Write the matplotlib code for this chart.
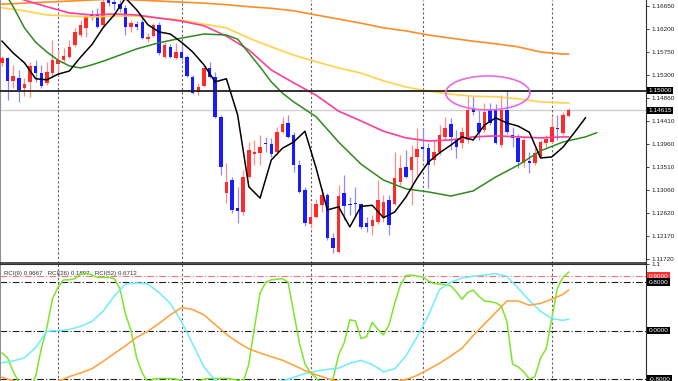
import matplotlib
matplotlib.use("Agg")
import matplotlib.pyplot as plt
from matplotlib.patches import Ellipse
import numpy as np

plt.rcParams['font.family'] = ['Liberation Sans', 'DejaVu Sans']

# daily candles
opens = [1.1554, 1.1563, 1.1519, 1.1524, 1.1505, 1.1517, 1.1548, 1.1534, 1.1515, 1.1534,
         1.1552, 1.1559, 1.1565, 1.1589, 1.1608, 1.1622, 1.1649, 1.1647, 1.1628, 1.1680,
         1.1672, 1.1668, 1.1661, 1.1624, 1.1629, 1.1633, 1.1600, 1.1606, 1.1628, 1.1565,
         1.1585, 1.1563, 1.1575, 1.1565, 1.1526, 1.1497, 1.1509, 1.1544, 1.1526, 1.1449,
         1.1301, 1.1326, 1.1272, 1.1264, 1.1332, 1.1377, 1.1379, 1.1398, 1.1396, 1.1381,
         1.1419, 1.1437, 1.1414, 1.1355, 1.1307, 1.1241, 1.1255, 1.1277, 1.1297, 1.1213,
         1.1186, 1.1301, 1.1279, 1.1281, 1.1279, 1.1243, 1.1237, 1.1245, 1.1253, 1.1287,
         1.1279, 1.1322, 1.1351, 1.1346, 1.1371, 1.1390, 1.1388, 1.1365, 1.1381, 1.1410,
         1.1435, 1.1404, 1.1398, 1.1404, 1.1466, 1.1437, 1.1423, 1.1462, 1.1462, 1.1394,
         1.1462, 1.1414, 1.1408, 1.1359, 1.1363, 1.1359, 1.1371, 1.1398, 1.1400, 1.1427,
         1.1418, 1.1451]
highs = [1.1567, 1.1565, 1.1550, 1.1540, 1.1524, 1.1556, 1.1559, 1.1550, 1.1556, 1.1598,
         1.1579, 1.1583, 1.1598, 1.1622, 1.1637, 1.1647, 1.1657, 1.1661, 1.1686, 1.1692,
         1.1684, 1.1676, 1.1666, 1.1637, 1.1635, 1.1641, 1.1612, 1.1631, 1.1633, 1.1594,
         1.1591, 1.1593, 1.1589, 1.1569, 1.1530, 1.1515, 1.1546, 1.1556, 1.1536, 1.1453,
         1.1359, 1.1332, 1.1313, 1.1346, 1.1400, 1.1404, 1.1414, 1.1410, 1.1408, 1.1429,
         1.1449, 1.1453, 1.1419, 1.1365, 1.1313, 1.1281, 1.1289, 1.1311, 1.1301, 1.1223,
         1.1317, 1.1336, 1.1293, 1.1313, 1.1281, 1.1255, 1.1258, 1.1326, 1.1297, 1.1297,
         1.1381, 1.1375, 1.1385, 1.1394, 1.1427, 1.1427, 1.1398, 1.1404, 1.1433, 1.1449,
         1.1447, 1.1423, 1.1429, 1.1489, 1.1489, 1.1462, 1.1476, 1.1476, 1.1474, 1.1491,
         1.1501, 1.1429, 1.1416, 1.1410, 1.1381, 1.1388, 1.1404, 1.1414, 1.1449, 1.1453,
         1.1458, 1.1466]
lows = [1.1548, 1.1482, 1.1505, 1.1478, 1.1489, 1.1488, 1.1517, 1.1505, 1.1511, 1.1526,
        1.1530, 1.1556, 1.1563, 1.1585, 1.1604, 1.1604, 1.1637, 1.1622, 1.1622, 1.1664,
        1.1657, 1.1653, 1.1608, 1.1614, 1.1618, 1.1600, 1.1594, 1.1604, 1.1569, 1.1563,
        1.1563, 1.1561, 1.1559, 1.1526, 1.1493, 1.1491, 1.1507, 1.1524, 1.1447, 1.1336,
        1.1281, 1.1262, 1.1243, 1.1258, 1.1330, 1.1355, 1.1355, 1.1381, 1.1371, 1.1375,
        1.1418, 1.1408, 1.1342, 1.1301, 1.1237, 1.1233, 1.1253, 1.1264, 1.1210, 1.1184,
        1.1184, 1.1248, 1.1258, 1.1255, 1.1231, 1.1225, 1.1219, 1.1241, 1.1245, 1.1219,
        1.1277, 1.1316, 1.1330, 1.1277, 1.1336, 1.1365, 1.1311, 1.1355, 1.1375, 1.1404,
        1.1385, 1.1369, 1.1388, 1.1398, 1.1453, 1.1404, 1.1419, 1.1433, 1.1396, 1.1390,
        1.1416, 1.1390, 1.1349, 1.1351, 1.1340, 1.1355, 1.1369, 1.1390, 1.1398, 1.1404,
        1.1414, 1.1449]
closes = [1.1563, 1.1519, 1.1528, 1.1501, 1.1513, 1.1548, 1.1534, 1.1509, 1.1536, 1.1559,
          1.1559, 1.1567, 1.1585, 1.1614, 1.1628, 1.1643, 1.1645, 1.1624, 1.1672, 1.1670,
          1.1668, 1.1659, 1.1624, 1.1631, 1.1624, 1.1602, 1.1604, 1.1628, 1.1573, 1.1589,
          1.1565, 1.1575, 1.1563, 1.1528, 1.1495, 1.1507, 1.1544, 1.1526, 1.1449, 1.1351,
          1.1322, 1.1268, 1.1266, 1.1332, 1.1385, 1.1381, 1.1390, 1.1396, 1.1377, 1.1419,
          1.1435, 1.1410, 1.1355, 1.1303, 1.1243, 1.1255, 1.1279, 1.1297, 1.1213, 1.1194,
          1.1295, 1.1275, 1.1277, 1.1279, 1.1235, 1.1235, 1.1248, 1.1287, 1.1283, 1.1239,
          1.1330, 1.1349, 1.1332, 1.1371, 1.1386, 1.1386, 1.1355, 1.1381, 1.1414, 1.1427,
          1.1410, 1.1390, 1.1419, 1.1462, 1.1458, 1.1419, 1.1458, 1.1437, 1.1398, 1.1462,
          1.1419, 1.1408, 1.1361, 1.1404, 1.1359, 1.1379, 1.1400, 1.1406, 1.1429, 1.1425,
          1.1453, 1.14615]

# moving averages (black and green are shifted forward)
black_x = list(range(0, 105, 2))
black_ma = [1.1596, 1.1573, 1.1554, 1.1523, 1.1521, 1.1532, 1.1538, 1.1565, 1.1589, 1.1622,
            1.1647, 1.1680, 1.1657, 1.1628, 1.1614, 1.1610, 1.1594, 1.1575, 1.1550, 1.1517,
            1.1523, 1.1453, 1.1313, 1.1291, 1.1365, 1.1388, 1.1400, 1.1421, 1.1349, 1.1268,
            1.1274, 1.1235, 1.1275, 1.1277, 1.1253, 1.1264, 1.1293, 1.1330, 1.1361, 1.1379,
            1.1394, 1.1410, 1.1404, 1.1433, 1.1447, 1.1437, 1.1431, 1.1419, 1.1369, 1.1371,
            1.1390, 1.1418, 1.1447]
green_x = [0, 2, 4, 6, 8, 10, 12, 14, 16, 18, 20, 24, 28, 32, 36, 40, 42, 44, 46, 48,
           50, 52, 56, 60, 64, 68, 72, 76, 80, 84, 88, 92, 96, 100, 104, 106]
green_ma = [1.1699, 1.1663, 1.1622, 1.1594, 1.1575, 1.1559, 1.1548, 1.1544, 1.1550, 1.1557,
            1.1565, 1.1581, 1.1593, 1.1602, 1.1610, 1.1608, 1.1600, 1.1573, 1.1546, 1.1517,
            1.1495, 1.1478, 1.1449, 1.1400, 1.1357, 1.1326, 1.1309, 1.1303, 1.1295, 1.1305,
            1.1332, 1.1355, 1.1383, 1.1400, 1.1410, 1.1418]
slow_x = list(range(0, 101, 4)) + [101]
pink_ma = [1.1692, 1.1676, 1.1663, 1.1651, 1.1647, 1.1649, 1.1647, 1.1641, 1.1635, 1.1626,
           1.1606, 1.1579, 1.1540, 1.1515, 1.1491, 1.1460, 1.1441, 1.1421, 1.1408, 1.1402,
           1.1404, 1.1410, 1.1412, 1.1410, 1.1408, 1.1410, 1.1410]
yellow_ma = [1.1661, 1.1655, 1.1647, 1.1645, 1.1643, 1.1645, 1.1645, 1.1641, 1.1637, 1.1629,
             1.1622, 1.1602, 1.1585, 1.1569, 1.1556, 1.1544, 1.1534, 1.1519, 1.1507, 1.1499,
             1.1493, 1.1489, 1.1488, 1.1484, 1.1478, 1.1476, 1.1476]
orange_ma = [1.1668, 1.1670, 1.1672, 1.1674, 1.1676, 1.1678, 1.1676, 1.1674, 1.1672, 1.1670,
             1.1667, 1.1663, 1.1660, 1.1655, 1.1647, 1.1639, 1.1631, 1.1622, 1.1616, 1.1608,
             1.1602, 1.1596, 1.1591, 1.1585, 1.1575, 1.1571, 1.1571]

# RCI values
rci9 = [-0.37, -0.45, -0.68, -0.85, -0.95, -1.0, -0.75, -0.3, 0.05, 0.53,
        0.72, 0.84, 0.84, 0.86, 0.93, 0.95, 0.92, 0.88, 0.88, 0.88,
        0.86, 0.7, 0.28, 0.0, -0.45, -0.7, -0.85, -0.8, -0.79, -0.79,
        -0.79, -0.8, -0.83, -0.9, -0.88, -0.84, -0.8, -0.79, -0.79, -0.79,
        -0.79, -0.8, -0.82, -0.85, -0.55, 0.05, 0.62, 0.8, 0.84, 0.85,
        0.86, 0.8, 0.3, -0.2, -0.55, -0.7, -0.78, -0.9, -0.95, -0.8,
        -0.4, -0.2, 0.18, 0.16, -0.13, -0.1, 0.14, 0.02, -0.07, 0.1,
        0.45, 0.75, 0.91, 0.92, 0.9, 0.89, 0.82, 0.78, 0.77, 0.76,
        0.74, 0.64, 0.52, 0.63, 0.67, 0.57, 0.49, 0.48, 0.46, 0.41,
        0.15, -0.55, -0.6, -0.68, -0.8, -0.76, -0.45, -0.3, 0.2, 0.7,
        0.88, 0.9667]
rci_x = list(range(0, 101, 2)) + [101]
rci26 = [-0.53, -0.5, -0.45, -0.28, -0.01, 0.0, 0.02, 0.07, 0.15, 0.32,
         0.57, 0.77, 0.79, 0.77, 0.63, 0.45, 0.15, -0.22, -0.6, -0.82,
         -0.95, -1.0, -1.0, -0.97, -0.9, -0.83, -0.77, -0.71, -0.67, -0.64,
         -0.62, -0.54, -0.49, -0.56, -0.68, -0.63, -0.42, -0.1, 0.25, 0.68,
         0.8, 0.87, 0.9, 0.92, 0.94, 0.9, 0.7, 0.5, 0.32, 0.2,
         0.17, 0.1897]
rci52 = [-0.77, -0.83, -0.88, -0.92, -0.9, -0.84, -0.76, -0.7, -0.63, -0.51,
         -0.38, -0.25, -0.11, -0.01, 0.12, 0.26, 0.38, 0.35, 0.26, 0.1,
         -0.06, -0.19, -0.3, -0.37, -0.43, -0.49, -0.57, -0.66, -0.73, -0.79,
         -0.84, -0.9, -0.93, -0.92, -0.88, -0.85, -0.81, -0.74, -0.64, -0.54,
         -0.42, -0.29, -0.08, 0.11, 0.3, 0.49, 0.49, 0.42, 0.45, 0.52,
         0.6, 0.6712]

price_ticks = [1.16650, 1.16200, 1.15750, 1.15300, 1.14860, 1.14410,
               1.13960, 1.13510, 1.13060, 1.12620, 1.12170, 1.11720]
separators = [10, 32, 55, 75, 98]
resistance = 1.15000
last_price = 1.14615

W, H = 678, 381
fig = plt.figure(figsize=(W / 100, H / 100), dpi=100)
fig.patch.set_facecolor('white')

xlim = (-2 / 5.61, 644 / 5.61)
ax = fig.add_axes([0, (H - 263) / H, 646 / W, 263 / H])
ax2 = fig.add_axes([0, (H - 397.2) / H, 646 / W, 133.1 / H])

bars = np.arange(len(opens))
o = np.array(opens)
c = np.array(closes)
up = c >= o
body_col = np.where(up, '#ff2a2a', '#1a1aff')
wick_col = np.where(up, '#ff8c8c', '#8c8cff')

ax.vlines(bars, lows, highs, colors=wick_col, lw=0.9, zorder=2)
ax.bar(bars, np.maximum(np.abs(c - o), 0.00006), bottom=np.minimum(o, c),
       width=0.62, color=body_col, linewidth=0, zorder=3)

ax.plot(slow_x, orange_ma, color='#ff8c2a', lw=1.2, zorder=4)
ax.plot(slow_x, yellow_ma, color='#ffd24a', lw=1.2, zorder=4)
ax.plot(slow_x, pink_ma, color='#ff3d9a', lw=1.2, zorder=4)
ax.plot(green_x, green_ma, color='#2f8a1e', lw=1.1, zorder=4)
ax.plot(black_x, black_ma, color='black', lw=1.1, zorder=5)

ax.axhline(resistance, color='#202020', lw=1.3, zorder=4)
ax.axhline(last_price, color='#d0d0d0', lw=1.0, zorder=1)
ax.add_patch(Ellipse((86.6, 1.14954), 15.0, 0.0066, fill=False,
                     ec='#e46be4', lw=1.2, zorder=6))

for a in (ax, ax2):
    a.set_xlim(*xlim)
    for s in separators:
        a.axvline(s, color='#606060', lw=0.8, ls=(0, (2, 2)), zorder=1)
    a.set_xticks([])
    a.yaxis.tick_right()
    a.tick_params(axis='y', length=2.5, width=0.6, pad=1.5, labelsize=4.6,
                  colors='#202020')
    a.spines['top'].set_visible(False)
    a.spines['left'].set_color('#909090')
    a.spines['right'].set_color('#303030')
    a.spines['bottom'].set_color('#303030')
    a.spines['bottom'].set_linewidth(1.2)

ax.set_ylim(1.16761 - 263 * 0.0001944, 1.16761)
ax.set_yticks(price_ticks)
ax.set_yticklabels(['%.5f' % t for t in price_ticks])

tr = ax.get_yaxis_transform()
for val in (resistance, last_price):
    ax.text(1.004, val, '%.5f' % val, transform=tr, fontsize=4.6, color='white',
            ha='left', va='center', zorder=7, clip_on=False,
            bbox=dict(boxstyle='square,pad=0.2', fc='black', ec='none'))

# RCI panel
ax2.set_ylim(-1.1, 1.1)
ax2.spines['top'].set_visible(True)
ax2.spines['top'].set_color('#303030')
ax2.plot(bars, rci9, color='#7ce62c', lw=1.1, zorder=4)
ax2.plot(rci_x, rci26, color='#70ecff', lw=1.1, zorder=4)
ax2.plot(rci_x, rci52, color='#ffa035', lw=1.1, zorder=4)
ax2.axhline(0.9, color='#ff7070', lw=0.8, ls=(0, (6, 2, 1, 2)), zorder=2)
for lv in (0.8, 0.0, -0.8):
    ax2.axhline(lv, color='#202020', lw=0.8, ls=(0, (6, 2, 1, 2)), zorder=2)
ax2.set_yticks([1.1])
ax2.set_yticklabels(['1.1'])
tr2 = ax2.get_yaxis_transform()
for lv, fc in ((0.9, '#ff3030'), (0.8, 'black'), (0.0, 'black'), (-0.8, 'black')):
    ax2.text(1.004, lv, '%.4f' % lv, transform=tr2, fontsize=4.6, color='white',
             ha='left', va='center', zorder=7, clip_on=False,
             bbox=dict(boxstyle='square,pad=0.2', fc=fc, ec='none'))
ax2.text(0.006, 0.93, 'RCI(9) 0.9667   RCI(26) 0.1897   RCI(52) 0.6712',
         transform=ax2.transAxes, fontsize=4.4, color='#303030', va='center')

fig.savefig('out.png', dpi=100)
